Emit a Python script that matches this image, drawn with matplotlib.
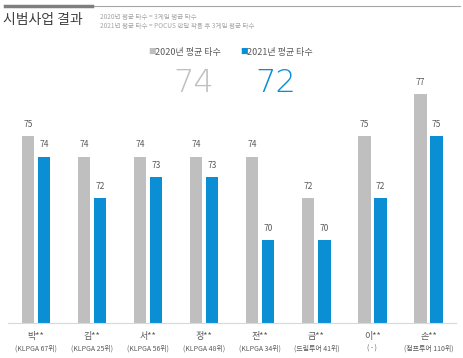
import matplotlib
matplotlib.use('Agg')
import matplotlib.pyplot as plt
import numpy as np

plt.rcParams['font.family'] = ['Noto Sans CJK KR', 'DejaVu Sans']

names = ['박**', '김**', '서**', '정**', '전**', '금**', '이**', '손**']
subs = ['(KLPGA 67위)', '(KLPGA 25위)', '(KLPGA 56위)', '(KLPGA 48위)',
        '(KLPGA 34위)', '(드림투어 41위)', '( - )', '(점프투어 110위)']
y2020 = [75, 74, 74, 74, 74, 72, 75, 77]
y2021 = [74, 72, 73, 73, 70, 70, 72, 75]
avg2020 = 74
avg2021 = 72

gray = '#BFBFBF'
blue = '#0A8FD4'
txt = '#595959'

fig = plt.figure(figsize=(4.64, 3.58), dpi=100)
ax = fig.add_axes([8/464, 35/358, 448.5/464, 12*20.8/358])

x = np.arange(len(names))
w = 0.22
off = 0.143
base = 66
ax.bar(x - off, np.array(y2020) - base, w, bottom=base, color=gray)
ax.bar(x + off, np.array(y2021) - base, w, bottom=base, color=blue)
for i in range(len(x)):
    ax.text(x[i] - off, y2020[i] + 0.35, str(y2020[i]), ha='center', va='bottom',
            fontsize=6, color=txt)
    ax.text(x[i] + off, y2021[i] + 0.35, str(y2021[i]), ha='center', va='bottom',
            fontsize=6, color=txt)

ax.set_xlim(-0.5, 7.5)
ax.set_ylim(66, 78)
for s in ['top', 'right', 'left']:
    ax.spines[s].set_visible(False)
ax.spines['bottom'].set_color('#D9D9D9')
ax.set_yticks([])
ax.set_xticks(x)
ax.set_xticklabels([])
ax.tick_params(axis='x', length=0)
for i in range(len(x)):
    ax.text(x[i], -0.035, names[i], transform=ax.get_xaxis_transform(),
            ha='center', va='top', fontsize=6.5, color=txt)
    ax.text(x[i], -0.085, subs[i], transform=ax.get_xaxis_transform(),
            ha='center', va='top', fontsize=5, color=txt)

# header
fig.add_artist(plt.Line2D([92/464, 460/464], [1 - 5.5/358] * 2, color='#A6A6A6', lw=0.8))
fig.add_artist(plt.Line2D([5/464, 92/464], [1 - 5.5/358] * 2, color='#7F7F7F', lw=2.5))
fig.text(3/464, 1 - 20/358, '시범사업 결과', fontsize=10, color='#404040', va='center')
fig.text(100/464, 1 - 17/358, '2020년 평균 타수 = 3게임 평균 타수', fontsize=4.7, color='#A6A6A6', va='center')
fig.text(100/464, 1 - 26/358, '2021년 평균 타수 = POCUS 한달 착용 후 3게임 평균 타수', fontsize=4.7, color='#A6A6A6', va='center')

# legend
fig.text(148/464, 1 - 52/358, '■', fontsize=5.5, color=gray, va='center')
fig.text(155/464, 1 - 52/358, '2020년 평균 타수', fontsize=6.5, color=txt, va='center')
fig.text(240/464, 1 - 52/358, '■', fontsize=5.5, color=blue, va='center')
fig.text(247/464, 1 - 52/358, '2021년 평균 타수', fontsize=6.5, color=txt, va='center')

# averages
fig.text(194/464, 1 - 83/358, str(avg2020), fontsize=23, color=gray, ha='center', va='center',
         family='DejaVu Sans', fontweight='light')
fig.text(276/464, 1 - 83/358, str(avg2021), fontsize=23, color=blue, ha='center', va='center',
         family='DejaVu Sans', fontweight='light')

fig.savefig('out.png', dpi=100)
